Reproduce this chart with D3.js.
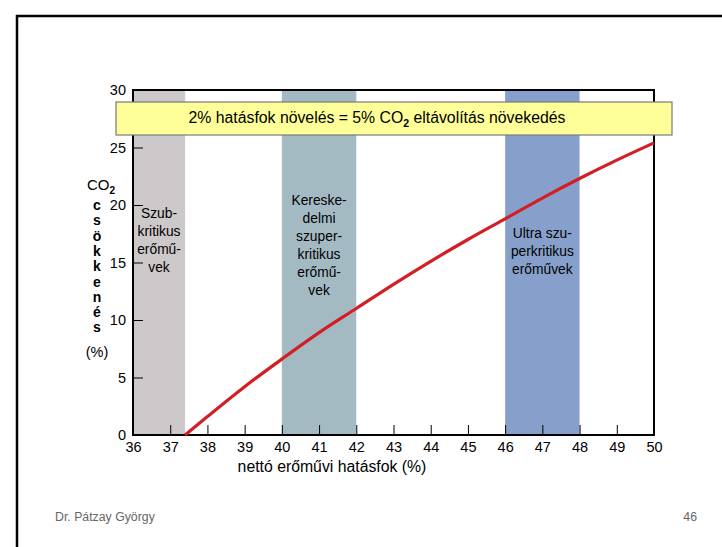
<!DOCTYPE html>
<html>
<head>
<meta charset="utf-8">
<script src="https://cdn.jsdelivr.net/npm/d3@7"></script>
<style>
  html, body { margin: 0; padding: 0; background: #fff; }
  svg { display: block; font-family: "Liberation Sans", Arial, sans-serif; }
</style>
</head>
<body>
<svg id="chart" width="722" height="547"></svg>
<script>
// Net plant efficiency (%) vs. CO2 reduction (%)
const efficiency = [37.4, 38, 39, 40, 41, 42, 43, 44, 45, 46, 47, 48, 49, 50];
const co2Reduction = [0, 1.6, 4.2, 6.6, 8.9, 11.0, 13.1, 15.1, 17.0, 18.8, 20.6, 22.3, 23.9, 25.4];

// Plant technology bands (efficiency ranges)
const bandStart = [36, 40, 46];
const bandEnd = [37.4, 42, 48];
const bandColors = ["#cdc8c9", "#a4bac3", "#87a0cb"];
const bandLabels = [
  ["Szub-", "kritikus", "erőmű-", "vek"],
  ["Kereske-", "delmi", "szuper-", "kritikus", "erőmű-", "vek"],
  ["Ultra szu-", "perkritikus", "erőművek"]
];
const bandLabelTop = [213, 200, 233];

const xTicks = [36, 37, 38, 39, 40, 41, 42, 43, 44, 45, 46, 47, 48, 49, 50];
const yTicks = [0, 5, 10, 15, 20, 25, 30];
const yLabelLetters = ["c", "s", "ö", "k", "k", "e", "n", "é", "s"];

const svg = d3.select("#chart");

// slide frame
svg.append("path")
  .attr("d", "M17,547 V16 H722")
  .attr("fill", "none")
  .attr("stroke", "#000")
  .attr("stroke-width", 2.5);

const x = d3.scaleLinear().domain([36, 50]).range([133, 654]);
const y = d3.scaleLinear().domain([0, 30]).range([435, 90]);

// bands
svg.selectAll("rect.band")
  .data(bandStart)
  .enter().append("rect")
  .attr("class", "band")
  .attr("x", (d) => x(d))
  .attr("y", y(30))
  .attr("width", (d, i) => x(bandEnd[i]) - x(d))
  .attr("height", y(0) - y(30))
  .attr("fill", (d, i) => bandColors[i]);

// band labels
bandLabels.forEach((lines, i) => {
  const cx = (x(bandStart[i]) + x(bandEnd[i])) / 2;
  const t = svg.append("text")
    .attr("text-anchor", "middle")
    .attr("font-size", 13.8)
    .attr("fill", "#000");
  lines.forEach((ln, j) => {
    t.append("tspan")
      .attr("x", cx)
      .attr("y", bandLabelTop[i] + j * 18 + 5)
      .text(ln);
  });
});

// plot frame
svg.append("rect")
  .attr("x", x(36)).attr("y", y(30))
  .attr("width", x(50) - x(36)).attr("height", y(0) - y(30))
  .attr("fill", "none").attr("stroke", "#000").attr("stroke-width", 2);

// axes with inward ticks
const xAxis = svg.append("g")
  .attr("transform", `translate(0,${y(0)})`)
  .call(d3.axisBottom(x).tickValues(xTicks).tickSize(-10).tickPadding(16).tickFormat(d3.format("d")));
const yAxis = svg.append("g")
  .attr("transform", `translate(${x(36)},0)`)
  .call(d3.axisLeft(y).tickValues(yTicks).tickSize(-10).tickPadding(7).tickFormat(d3.format("d")));
[xAxis, yAxis].forEach((g) => {
  g.select(".domain").remove();
  g.selectAll(".tick line").attr("stroke", "#000").attr("stroke-width", 1);
  g.selectAll(".tick text")
    .attr("font-size", 14.5)
    .attr("font-family", "'Liberation Sans', Arial, sans-serif")
    .attr("fill", "#000");
});
xAxis.selectAll(".tick text").attr("dy", "0.35em").attr("y", 12);

// efficiency curve
const line = d3.line()
  .x((d, i) => x(efficiency[i]))
  .y((d) => y(d))
  .curve(d3.curveMonotoneX);
svg.append("path")
  .datum(co2Reduction)
  .attr("d", line)
  .attr("fill", "none")
  .attr("stroke", "#d21f26")
  .attr("stroke-width", 3.2);

// headline box
svg.append("rect")
  .attr("x", 116).attr("y", 102)
  .attr("width", 556).attr("height", 33)
  .attr("fill", "#ffff99")
  .attr("stroke", "#7a7a7a")
  .attr("stroke-width", 1.2);
const head = svg.append("text")
  .attr("x", 377).attr("y", 123)
  .attr("text-anchor", "middle")
  .attr("font-size", 15.8)
  .attr("fill", "#000");
head.append("tspan").text("2% hatásfok növelés = 5% CO");
head.append("tspan").attr("font-size", 10.5).attr("font-weight", "bold").attr("dy", 4).text("2");
head.append("tspan").attr("dy", -4).text(" eltávolítás növekedés");

// y-axis label (stacked letters)
const co2 = svg.append("text")
  .attr("x", 87).attr("y", 190)
  .attr("font-size", 15)
  .attr("fill", "#000");
co2.append("tspan").text("CO");
co2.append("tspan").attr("font-size", 10).attr("font-weight", "bold").attr("dy", 4).text("2");

svg.selectAll("text.ylet")
  .data(yLabelLetters)
  .enter().append("text")
  .attr("class", "ylet")
  .attr("x", 97)
  .attr("y", (d, i) => 210 + i * 15.3)
  .attr("text-anchor", "middle")
  .attr("font-size", 14)
  .attr("font-weight", "bold")
  .attr("fill", "#000")
  .text((d) => d);

svg.append("text")
  .attr("x", 97).attr("y", 357)
  .attr("text-anchor", "middle")
  .attr("font-size", 14.5)
  .attr("fill", "#000")
  .text("(%)");

// x-axis title
svg.append("text")
  .attr("x", 332).attr("y", 472)
  .attr("text-anchor", "middle")
  .attr("font-size", 15.8)
  .attr("fill", "#000")
  .text("nettó erőművi hatásfok (%)");

// footer
svg.append("text")
  .attr("x", 55).attr("y", 521)
  .attr("font-size", 12.3)
  .attr("fill", "#666")
  .text("Dr. Pátzay György");
svg.append("text")
  .attr("x", 697).attr("y", 521)
  .attr("text-anchor", "end")
  .attr("font-size", 12.3)
  .attr("fill", "#666")
  .text("46");
</script>
</body>
</html>
